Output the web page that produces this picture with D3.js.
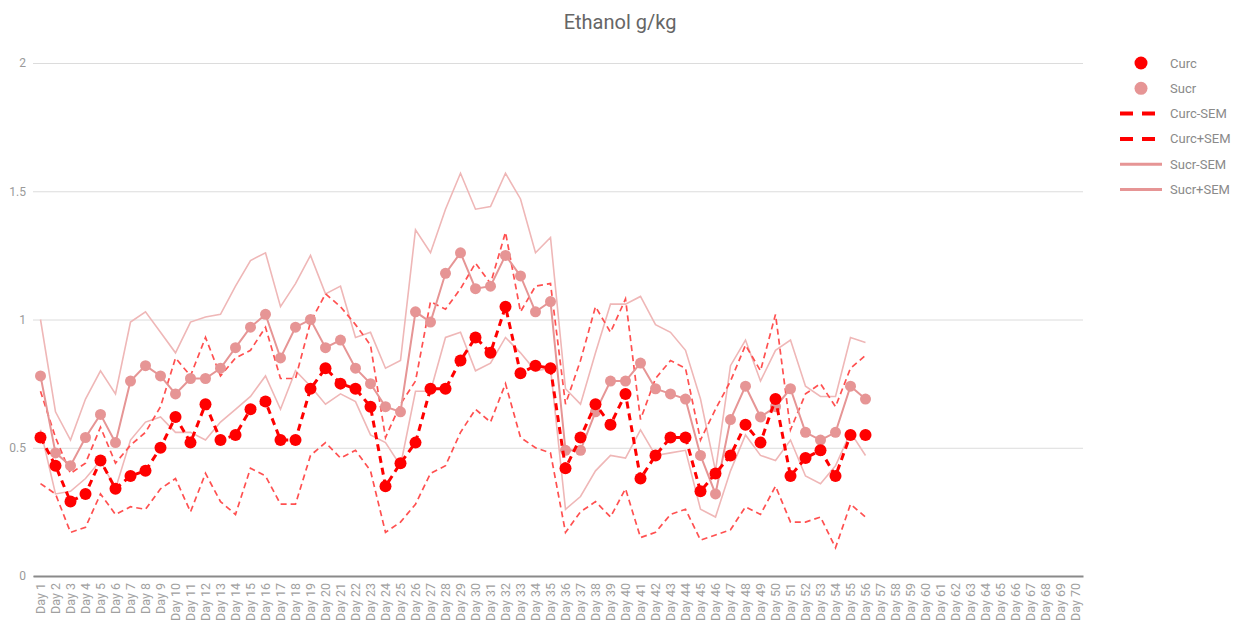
<!DOCTYPE html>
<html lang="en">
<head>
<meta charset="utf-8">
<script src="https://d3js.org/d3.v7.min.js"></script>
<style>
  body { margin: 0; background: #fff; }
  text { font-family: Roboto, "Noto Sans", sans-serif; }
</style>
</head>
<body>
<script>
// ---- data ----
var days = d3.range(1, 71).map(function (i) { return "Day " + i; });
var yTicks = [0, 0.5, 1, 1.5, 2];

var curc = [0.54,0.43,0.29,0.32,0.45,0.34,0.39,0.41,0.50,0.62,
            0.52,0.67,0.53,0.55,0.65,0.68,0.53,0.53,0.73,0.81,
            0.75,0.73,0.66,0.35,0.44,0.52,0.73,0.73,0.84,0.93,
            0.87,1.05,0.79,0.82,0.81,0.42,0.54,0.67,0.59,0.71,
            0.38,0.47,0.54,0.54,0.33,0.40,0.47,0.59,0.52,0.69,
            0.39,0.46,0.49,0.39,0.55,0.55];
var sucr = [0.78,0.48,0.43,0.54,0.63,0.52,0.76,0.82,0.78,0.71,
            0.77,0.77,0.81,0.89,0.97,1.02,0.85,0.97,1.00,0.89,
            0.92,0.81,0.75,0.66,0.64,1.03,0.99,1.18,1.26,1.12,
            1.13,1.25,1.17,1.03,1.07,0.49,0.49,0.64,0.76,0.76,
            0.83,0.73,0.71,0.69,0.47,0.32,0.61,0.74,0.62,0.66,
            0.73,0.56,0.53,0.56,0.74,0.69];
var curcLo = [0.36,0.32,0.17,0.19,0.32,0.24,0.27,0.26,0.34,0.38,
              0.25,0.40,0.29,0.24,0.42,0.39,0.28,0.28,0.47,0.52,
              0.46,0.49,0.41,0.17,0.21,0.28,0.40,0.43,0.56,0.65,
              0.60,0.75,0.54,0.50,0.48,0.17,0.25,0.29,0.23,0.34,
              0.15,0.17,0.24,0.26,0.14,0.16,0.18,0.27,0.24,0.35,
              0.21,0.21,0.23,0.11,0.28,0.23];
var curcHi = [0.72,0.54,0.40,0.44,0.58,0.44,0.51,0.56,0.66,0.85,
              0.78,0.93,0.78,0.85,0.88,0.97,0.77,0.77,0.99,1.10,
              1.05,0.98,0.90,0.54,0.67,0.76,1.07,1.04,1.12,1.22,
              1.14,1.34,1.03,1.13,1.14,0.67,0.84,1.05,0.95,1.08,
              0.61,0.77,0.84,0.81,0.53,0.65,0.76,0.90,0.80,1.02,
              0.57,0.71,0.75,0.66,0.81,0.86];
var sucrLo = [0.57,0.32,0.33,0.38,0.45,0.34,0.53,0.60,0.62,0.56,
              0.56,0.53,0.60,0.65,0.70,0.78,0.65,0.80,0.74,0.67,
              0.71,0.68,0.55,0.52,0.43,0.72,0.72,0.93,0.95,0.80,
              0.83,0.93,0.87,0.80,0.81,0.26,0.31,0.41,0.47,0.46,
              0.57,0.47,0.48,0.49,0.26,0.23,0.41,0.55,0.47,0.45,
              0.53,0.39,0.36,0.43,0.56,0.47];
var sucrHi = [1.00,0.64,0.53,0.69,0.80,0.71,0.99,1.03,0.95,0.87,
              0.99,1.01,1.02,1.13,1.23,1.26,1.05,1.14,1.25,1.10,
              1.13,0.93,0.95,0.81,0.84,1.35,1.26,1.43,1.57,1.43,
              1.44,1.57,1.47,1.26,1.32,0.73,0.67,0.87,1.06,1.06,
              1.09,0.98,0.95,0.88,0.69,0.41,0.82,0.92,0.76,0.88,
              0.92,0.74,0.70,0.70,0.93,0.91];

var RED = "#ff0000", PINK = "#e69595", PINK_LT = "#efb7b7", RED_LT = "#ff5050";

var width = 1244, height = 627;
var margin = {top: 63, right: 161, bottom: 51, left: 33};

var svg = d3.select("body").append("svg")
    .attr("width", width)
    .attr("height", height);

var x = d3.scaleBand()
    .domain(days)
    .range([margin.left, width - margin.right])
    .padding(0);
var y = d3.scaleLinear()
    .domain([0, 2])
    .range([height - margin.bottom, margin.top]);

function cx(i) { return x(days[i]) + x.bandwidth() / 2; }

// title
svg.append("text")
   .attr("x", 620).attr("y", 29)
   .attr("text-anchor", "middle")
   .attr("font-size", 20)
   .attr("fill", "#666")
   .text("Ethanol g/kg");

// gridlines + y labels
var yAxis = d3.axisLeft(y).tickValues(yTicks).tickSize(-(width - margin.right - margin.left))
    .tickFormat(d3.format("~g")).tickPadding(7);
var gy = svg.append("g")
    .attr("transform", "translate(" + margin.left + ",0)")
    .call(yAxis);
gy.select(".domain").remove();
gy.selectAll(".tick line").attr("stroke", "#dcdcdc").attr("stroke-width", 1);
gy.selectAll(".tick text").attr("fill", "#9a9a9a").attr("font-size", 12)
  .attr("font-family", "Roboto, sans-serif");

// x axis
var xAxis = d3.axisBottom(x).tickSize(0).tickPadding(0);
var gx = svg.append("g")
    .attr("transform", "translate(0," + y(0) + ")")
    .call(xAxis);
gx.select(".domain").attr("stroke", "#8a8a8a").attr("stroke-width", 2);
gx.selectAll(".tick text")
  .attr("transform", "rotate(-90)")
  .attr("text-anchor", "end")
  .attr("x", -7).attr("y", 0).attr("dy", "0.35em")
  .attr("fill", "#a0a0a0").attr("font-size", 12.5)
  .attr("font-family", "Roboto, sans-serif");

var line = d3.line()
    .x(function (d, i) { return cx(i); })
    .y(function (d) { return y(d); });

// SEM bands
svg.append("path").datum(sucrLo).attr("d", line)
   .attr("fill", "none").attr("stroke", PINK_LT).attr("stroke-width", 1.6);
svg.append("path").datum(sucrHi).attr("d", line)
   .attr("fill", "none").attr("stroke", PINK_LT).attr("stroke-width", 1.6);
svg.append("path").datum(curcLo).attr("d", line)
   .attr("fill", "none").attr("stroke", RED_LT).attr("stroke-width", 1.7)
   .attr("stroke-dasharray", "6,4");
svg.append("path").datum(curcHi).attr("d", line)
   .attr("fill", "none").attr("stroke", RED_LT).attr("stroke-width", 1.7)
   .attr("stroke-dasharray", "6,4");

// Sucr series
svg.append("path").datum(sucr).attr("d", line)
   .attr("fill", "none").attr("stroke", PINK).attr("stroke-width", 2);
svg.selectAll("circle.sucr").data(sucr).enter().append("circle")
   .attr("class", "sucr")
   .attr("cx", function (d, i) { return cx(i); })
   .attr("cy", function (d) { return y(d); })
   .attr("r", 5.5).attr("fill", PINK);

// Curc series
svg.append("path").datum(curc).attr("d", line)
   .attr("fill", "none").attr("stroke", RED).attr("stroke-width", 3)
   .attr("stroke-dasharray", "7,5");
svg.selectAll("circle.curc").data(curc).enter().append("circle")
   .attr("class", "curc")
   .attr("cx", function (d, i) { return cx(i); })
   .attr("cy", function (d) { return y(d); })
   .attr("r", 6).attr("fill", RED);

// legend
var legend = [
  {name: "Curc", type: "dot", color: RED},
  {name: "Sucr", type: "dot", color: PINK},
  {name: "Curc-SEM", type: "dash", color: RED},
  {name: "Curc+SEM", type: "dash", color: RED},
  {name: "Sucr-SEM", type: "line", color: PINK},
  {name: "Sucr+SEM", type: "line", color: PINK}
];
var lg = svg.append("g").selectAll("g").data(legend).enter().append("g")
   .attr("transform", function (d, i) { return "translate(1141," + (63 + i * 25.3) + ")"; });
lg.filter(function (d) { return d.type === "dot"; }).append("circle")
   .attr("r", 6.5).attr("fill", function (d) { return d.color; });
lg.filter(function (d) { return d.type !== "dot"; }).append("line")
   .attr("x1", -21).attr("x2", 21)
   .attr("stroke", function (d) { return d.color; })
   .attr("stroke-width", function (d) { return d.type === "dash" ? 4 : 3; })
   .attr("stroke-dasharray", function (d) { return d.type === "dash" ? "13,9" : null; });
lg.append("text")
   .attr("x", 29).attr("dy", "0.35em")
   .attr("font-size", 13).attr("fill", "#8a8a8a")
   .text(function (d) { return d.name; });
</script>
</body>
</html>
